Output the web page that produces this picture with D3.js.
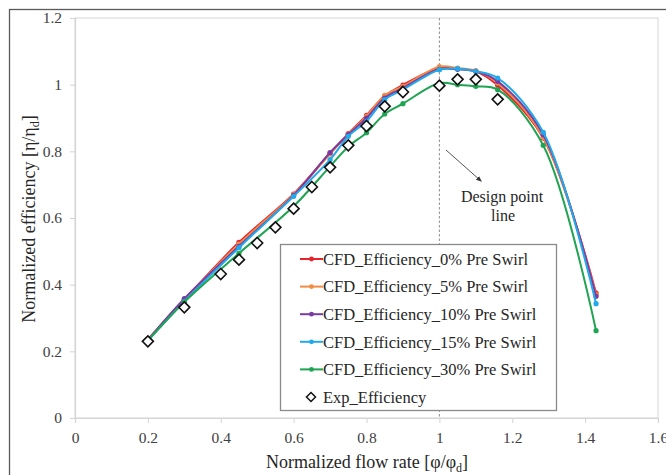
<!DOCTYPE html>
<html>
<head>
<meta charset="utf-8">
<script src="https://cdn.jsdelivr.net/npm/d3@7"></script>
<style>
  body { margin: 0; background: #fff; }
  svg { display: block; font-family: "Liberation Serif", "Times New Roman", serif; }
</style>
</head>
<body>
<svg id="chart" width="666" height="475"></svg>
<script>
// flow rate points of the CFD runs
const cfdX = [0.2, 0.3, 0.45, 0.6, 0.7, 0.75, 0.8, 0.85, 0.9, 1.0, 1.05, 1.1, 1.16, 1.285, 1.43];

const swirl0 = [0.235, 0.355, 0.527, 0.672, 0.795, 0.853, 0.908, 0.966, 0.999, 1.050, 1.048, 1.040, 0.998, 0.840, 0.375];
const swirl5 = [0.236, 0.355, 0.522, 0.670, 0.792, 0.852, 0.905, 0.968, 0.995, 1.054, 1.050, 1.042, 1.005, 0.842, 0.370];
const swirl10 = [0.234, 0.358, 0.515, 0.668, 0.796, 0.850, 0.900, 0.960, 0.990, 1.046, 1.046, 1.040, 1.010, 0.850, 0.365];
const swirl15 = [0.232, 0.350, 0.511, 0.665, 0.775, 0.845, 0.890, 0.955, 0.985, 1.045, 1.048, 1.040, 1.020, 0.857, 0.343];
const swirl30 = [0.232, 0.348, 0.494, 0.635, 0.755, 0.814, 0.856, 0.912, 0.943, 1.005, 1.000, 0.995, 0.985, 0.818, 0.262];

const expX = [0.2, 0.3, 0.4, 0.45, 0.5, 0.55, 0.6, 0.65, 0.7, 0.75, 0.8, 0.85, 0.9, 1.0, 1.05, 1.1, 1.16];
const expY = [0.230, 0.332, 0.432, 0.475, 0.525, 0.572, 0.628, 0.693, 0.752, 0.818, 0.876, 0.935, 0.978, 0.997, 1.016, 1.016, 0.956];

const seriesNames = [
    "CFD_Efficiency_0% Pre Swirl",
    "CFD_Efficiency_5% Pre Swirl",
    "CFD_Efficiency_10% Pre Swirl",
    "CFD_Efficiency_15% Pre Swirl",
    "CFD_Efficiency_30% Pre Swirl"
];
const seriesColors = ["#e8232b", "#f28c45", "#7a3aa3", "#22a9ea", "#1ea452"];
const seriesValues = [swirl0, swirl5, swirl10, swirl15, swirl30];
const expName = "Exp_Efficiency";

const xTicks = [0, 0.2, 0.4, 0.6, 0.8, 1, 1.2, 1.4, 1.6];
const yTicks = [0, 0.2, 0.4, 0.6, 0.8, 1, 1.2];

const svg = d3.select("#chart");

const plotLeft = 75, plotRight = 658, plotTop = 18, plotBottom = 418;

const x = d3.scaleLinear().domain([0, 1.6]).range([plotLeft, plotRight]);
const y = d3.scaleLinear().domain([0, 1.2]).range([plotBottom, plotTop]);

// outer chart border (clipped by the picture on right and bottom)
svg.append("rect")
    .attr("x", 9.5).attr("y", 9.5)
    .attr("width", 700).attr("height", 500)
    .attr("fill", "#fff")
    .attr("stroke", "#5a5a5a")
    .attr("stroke-width", 1.3);

// plot area frame
svg.append("rect")
    .attr("x", plotLeft).attr("y", plotTop)
    .attr("width", plotRight - plotLeft).attr("height", plotBottom - plotTop)
    .attr("fill", "none")
    .attr("stroke", "#dcdcdc")
    .attr("stroke-width", 1.2);

// axes
const xAxis = svg.append("g")
    .attr("transform", `translate(0,${plotBottom})`)
    .call(d3.axisBottom(x).tickValues(xTicks).tickFormat(d3.format("~g")).tickSize(5).tickPadding(9));
const yAxis = svg.append("g")
    .attr("transform", `translate(${plotLeft},0)`)
    .call(d3.axisLeft(y).tickValues(yTicks).tickFormat(d3.format("~g")).tickSize(5).tickPadding(8));

[xAxis, yAxis].forEach(a => {
    a.select(".domain").attr("stroke", "#d4d4d4").attr("stroke-width", 1.2);
    a.selectAll(".tick line").attr("stroke", "#d4d4d4");
    a.selectAll(".tick text")
        .attr("fill", "#404040")
        .style("font-family", "'Liberation Serif', serif")
        .style("font-size", "15.5px");
});

// design point dashed line
svg.append("line")
    .attr("x1", x(1)).attr("x2", x(1))
    .attr("y1", y(1.2)).attr("y2", plotBottom)
    .attr("stroke", "#8c8c8c")
    .attr("stroke-width", 1)
    .attr("stroke-dasharray", "2.5,2");

// arrow + note
svg.append("defs").append("marker")
    .attr("id", "arrow")
    .attr("viewBox", "0 0 10 10")
    .attr("refX", 8).attr("refY", 5)
    .attr("markerWidth", 6).attr("markerHeight", 6)
    .attr("orient", "auto")
    .append("path")
    .attr("d", "M0,1 L10,5 L0,9 Z")
    .attr("fill", "#333");

svg.append("line")
    .attr("x1", 446).attr("y1", 150)
    .attr("x2", 481).attr("y2", 181)
    .attr("stroke", "#555")
    .attr("stroke-width", 1)
    .attr("marker-end", "url(#arrow)");

const note = svg.append("text")
    .attr("text-anchor", "middle")
    .attr("fill", "#262626")
    .style("font-size", "16px");
note.append("tspan").attr("x", 502).attr("y", 202).text("Design point");
note.append("tspan").attr("x", 503).attr("y", 221).text("line");

// CFD curves
const line = d3.line()
    .x((d, i) => x(cfdX[i]))
    .y(d => y(d))
    .curve(d3.curveCatmullRom.alpha(0.5));

seriesValues.forEach((vals, k) => {
    const g = svg.append("g");
    g.append("path")
        .datum(vals)
        .attr("d", line)
        .attr("fill", "none")
        .attr("stroke", seriesColors[k])
        .attr("stroke-width", 2);
    g.selectAll("circle")
        .data(vals)
        .join("circle")
        .attr("cx", (d, i) => x(cfdX[i]))
        .attr("cy", d => y(d))
        .attr("r", 2.6)
        .attr("fill", seriesColors[k]);
});

// experiment diamonds
const diamond = "M0,-5.5 L5.5,0 L0,5.5 L-5.5,0 Z";
svg.append("g").selectAll("path")
    .data(expY)
    .join("path")
    .attr("transform", (d, i) => `translate(${x(expX[i])},${y(d)})`)
    .attr("d", diamond)
    .attr("fill", "#fff")
    .attr("stroke", "#111")
    .attr("stroke-width", 1.6);

// legend
const legend = svg.append("g");
legend.append("rect")
    .attr("x", 280.5).attr("y", 244.5)
    .attr("width", 276).attr("height", 166)
    .attr("fill", "#fff")
    .attr("stroke", "#8a8a8a")
    .attr("stroke-width", 1.3);

const rowY = d3.range(6).map(i => 259 + i * 27.6);

seriesNames.forEach((name, k) => {
    const yy = rowY[k];
    legend.append("line")
        .attr("x1", 300).attr("x2", 323)
        .attr("y1", yy).attr("y2", yy)
        .attr("stroke", seriesColors[k])
        .attr("stroke-width", 2);
    legend.append("circle")
        .attr("cx", 311.5).attr("cy", yy).attr("r", 2.4)
        .attr("fill", seriesColors[k]);
    legend.append("text")
        .attr("x", 323).attr("y", yy)
        .attr("dy", "0.35em")
        .attr("fill", "#262626")
        .style("font-size", "16.5px")
        .text(name);
});

legend.append("path")
    .attr("transform", `translate(311,${rowY[5]})`)
    .attr("d", "M0,-4.5 L4.5,0 L0,4.5 L-4.5,0 Z")
    .attr("fill", "#fff")
    .attr("stroke", "#111")
    .attr("stroke-width", 1.5);
legend.append("text")
    .attr("x", 323).attr("y", rowY[5])
    .attr("dy", "0.35em")
    .attr("fill", "#262626")
    .style("font-size", "16.5px")
    .text(expName);

// axis titles
const xt = svg.append("text")
    .attr("x", 367).attr("y", 468)
    .attr("text-anchor", "middle")
    .attr("fill", "#262626")
    .style("font-size", "18px");
xt.append("tspan").text("Normalized flow rate [φ/φ");
xt.append("tspan").attr("dy", 4).style("font-size", "12px").text("d");
xt.append("tspan").attr("dy", -4).text("]");

const yt = svg.append("text")
    .attr("transform", "translate(35,219) rotate(-90)")
    .attr("text-anchor", "middle")
    .attr("fill", "#262626")
    .style("font-size", "18px");
yt.append("tspan").text("Normalized efficiency [η/η");
yt.append("tspan").attr("dy", 4).style("font-size", "12px").text("d");
yt.append("tspan").attr("dy", -4).text("]");
</script>
</body>
</html>
